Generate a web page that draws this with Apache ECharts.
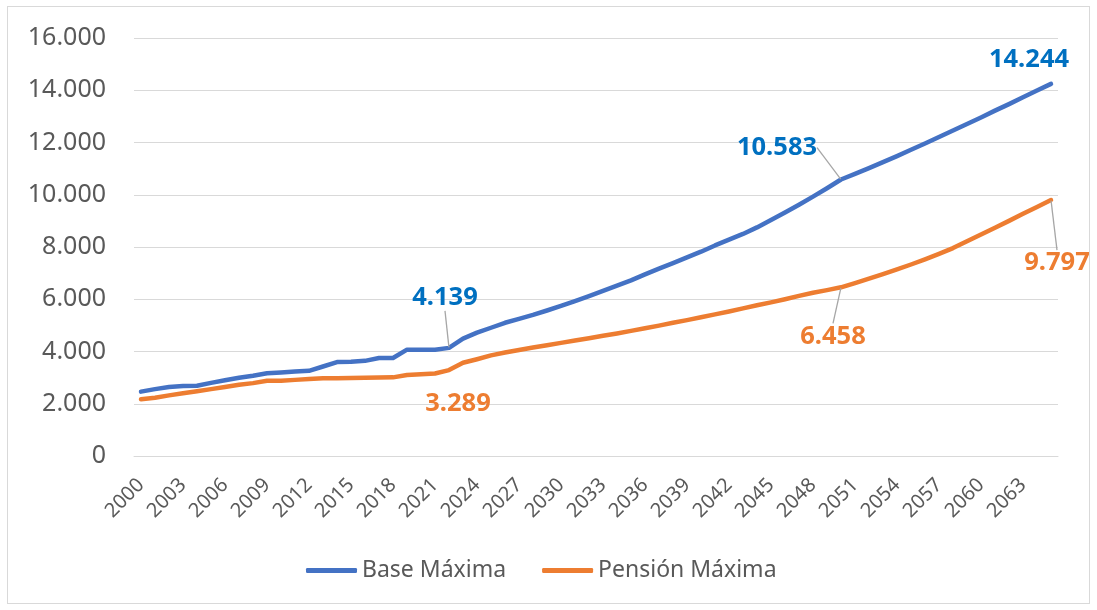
<!DOCTYPE html>
<html><head><meta charset="utf-8">
<script src="https://cdn.jsdelivr.net/npm/echarts@6/dist/echarts.min.js"></script>
<style>
html,body{margin:0;padding:0;background:#fff}
#frame{position:absolute;left:7px;top:6px;width:1083px;height:598px;border:1.5px solid #D9D9D9;box-sizing:border-box}
#c{position:absolute;left:0;top:0;width:1097px;height:610px}
</style></head><body>
<div id="frame"></div><div id="c"></div>
<script>
const years = ['2000','2001','2002','2003','2004','2005','2006','2007','2008','2009',
  '2010','2011','2012','2013','2014','2015','2016','2017','2018','2019',
  '2020','2021','2022','2023','2024','2025','2026','2027','2028','2029',
  '2030','2031','2032','2033','2034','2035','2036','2037','2038','2039',
  '2040','2041','2042','2043','2044','2045','2046','2047','2048','2049',
  '2050','2051','2052','2053','2054','2055','2056','2057','2058','2059',
  '2060','2061','2062','2063','2064','2065'];
const baseMaxima = [2465,2560,2640,2680,2690,2800,2897,2996,3074,3166,
  3198,3230,3262,3425,3597,3606,3642,3751,3751,4070,
  4070,4070,4139,4495,4720,4909,5100,5250,5400,5570,
  5750,5930,6120,6320,6520,6720,6950,7170,7380,7600,
  7820,8060,8280,8500,8750,9030,9320,9620,9930,10250,
  10583,10800,11020,11250,11480,11720,11960,12210,12460,12710,
  12960,13220,13470,13730,13990,14244];
const pensionMaxima = [2170,2230,2320,2400,2480,2560,2640,2730,2790,2877,
  2877,2914,2943,2973,2980,2988,2995,3003,3010,3103,
  3131,3159,3289,3569,3704,3850,3960,4060,4150,4240,
  4330,4420,4510,4600,4690,4790,4890,4990,5100,5200,
  5310,5420,5530,5650,5770,5880,6000,6130,6250,6350,
  6458,6620,6790,6960,7140,7330,7530,7740,7960,8220,
  8480,8740,9000,9270,9530,9797];
const seriesNames = ['Base Máxima','Pensión Máxima'];
const labelledYears = ['2022','2050','2065'];

// label layout (offsets from the point, leader line on/off)
const labelLayoutCfg = [
  {'2022':[-4,-50,true],'2050':[-64,-32,true],'2065':[-22,-24,false]},
  {'2022':[9,34,false],'2050':[-8,49,true],'2065':[6,63,true]}
];
const lineColors = ['#4472C4','#ED7D31'];
const labelColors = ['#0070C0','#ED7D31'];
const FONT = 'Noto Sans';

function fmt(v){ return String(Math.round(v)).replace(/\B(?=(\d{3})+(?!\d))/g,'.'); }

function buildData(values, si){
  return values.map((v,i)=>{
    const y = years[i];
    if (labelledYears.indexOf(y) >= 0) {
      const cfg = labelLayoutCfg[si][y];
      return {
        value: v,
        label: {show:true, position:'inside', color: labelColors[si], fontWeight:'bold',
          fontSize:25.5, fontFamily:FONT, formatter: p=>fmt(p.value)},
        labelLine: {show: cfg[2], lineStyle:{color:'#A6A6A6', width:1.3}}
      };
    }
    return v;
  });
}

const chart = echarts.init(document.getElementById('c'), null, {renderer:'canvas'});
const allValues = [baseMaxima, pensionMaxima];
chart.setOption({
  animation:false,
  backgroundColor:'transparent',
  grid:{left:134, right:39, top:38, bottom:154, containLabel:false},
  legend:{
    data: seriesNames, left:301, top:554, itemWidth:51, itemHeight:5, itemGap:36,
    icon:'roundRect',
    textStyle:{fontFamily:FONT, fontSize:23, color:'#595959'}
  },
  xAxis:{
    type:'category', data: years, boundaryGap:true,
    axisLine:{show:true, lineStyle:{color:'#D9D9D9', width:1}},
    axisTick:{show:false},
    axisLabel:{interval:2, rotate:45, margin:26, fontFamily:FONT, fontSize:20, color:'#595959'}
  },
  yAxis:{
    type:'value', min:0, max:16000, interval:2000,
    axisLine:{show:false}, axisTick:{show:false},
    splitLine:{lineStyle:{color:'#D9D9D9', width:1}},
    axisLabel:{margin:28, fontFamily:FONT, fontSize:25, color:'#595959', formatter:v=>fmt(v)}
  },
  series: seriesNames.map((n,si)=>({
    name:n, type:'line', data: buildData(allValues[si], si),
    symbol:'circle', symbolSize:1, showSymbol:true, showAllSymbol:true,
    itemStyle:{color: lineColors[si]},
    lineStyle:{color: lineColors[si], width:4.5, cap:'round', join:'round'},
    label:{show:false},
    labelLayout: (p)=>{
      const y = years[p.dataIndex];
      const cfg = labelLayoutCfg[si][y];
      if (!cfg) return {};
      return {dx: cfg[0], dy: cfg[1]};
    },
    emphasis:{disabled:true}
  }))
});
</script>
</body></html>
